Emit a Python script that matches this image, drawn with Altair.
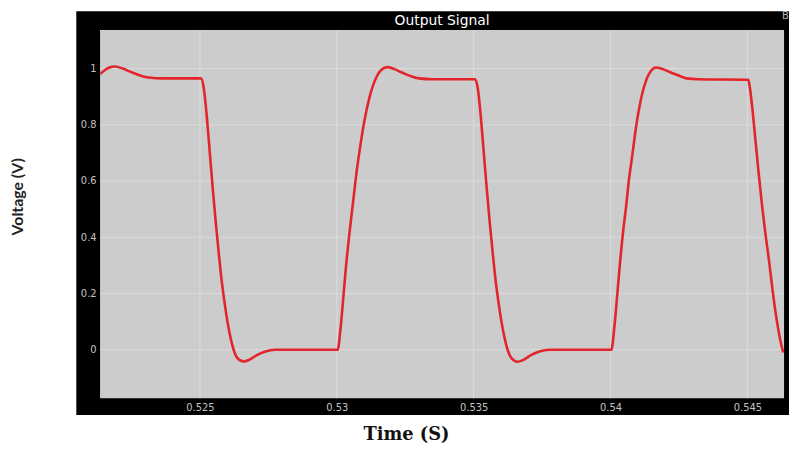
import altair as alt
import pandas as pd

# ---- data ----
time_s = [
    0.52135, 0.52153, 0.52167, 0.52189, 0.52218, 0.52247, 0.52276, 0.52312, 0.52366, 0.52504,
    0.52514, 0.52525, 0.52536, 0.52547, 0.52558, 0.52569, 0.52580, 0.52594, 0.52608, 0.52623,
    0.52637, 0.52659, 0.52681, 0.52710, 0.52739, 0.52775, 0.53003,
    0.53014, 0.53025, 0.53033, 0.53048, 0.53060, 0.53072, 0.53082, 0.53100, 0.53120, 0.53145,
    0.53162, 0.53185, 0.53210, 0.53240, 0.53270, 0.53300, 0.53350, 0.53505,
    0.53515, 0.53526, 0.53537, 0.53548, 0.53559, 0.53570, 0.53581, 0.53595, 0.53609, 0.53624,
    0.53638, 0.53660, 0.53682, 0.53711, 0.53740, 0.53776, 0.54003,
    0.54014, 0.54025, 0.54032, 0.54046, 0.54057, 0.54068, 0.54078, 0.54093, 0.54111, 0.54133,
    0.54148, 0.54166, 0.54191, 0.54220, 0.54249, 0.54278, 0.54320, 0.54503,
    0.54507, 0.54518, 0.54529, 0.54540, 0.54554, 0.54565, 0.54580, 0.54591, 0.54602, 0.54617,
    0.54631,
]
voltage_v = [
    0.980, 0.995, 1.003, 1.007, 1.000, 0.988, 0.977, 0.968, 0.965, 0.965,
    0.930, 0.830, 0.700, 0.570, 0.450, 0.340, 0.240, 0.140, 0.060, 0.000,
    -0.030, -0.042, -0.035, -0.018, -0.006, 0.000, 0.000,
    0.080, 0.200, 0.290, 0.430, 0.530, 0.630, 0.700, 0.810, 0.900, 0.970,
    0.995, 1.005, 0.998, 0.985, 0.973, 0.965, 0.962, 0.962,
    0.930, 0.830, 0.700, 0.570, 0.450, 0.340, 0.240, 0.140, 0.060, 0.000,
    -0.030, -0.043, -0.036, -0.018, -0.006, 0.000, 0.000,
    0.080, 0.200, 0.280, 0.420, 0.510, 0.610, 0.680, 0.790, 0.890, 0.965,
    0.992, 1.004, 0.998, 0.986, 0.975, 0.965, 0.962, 0.960,
    0.945, 0.860, 0.750, 0.640, 0.510, 0.420, 0.310, 0.220, 0.140, 0.050,
    -0.010,
]
x_ticks = [0.525, 0.53, 0.535, 0.54, 0.545]
y_ticks = [0, 0.2, 0.4, 0.6, 0.8, 1]
x_domain = [0.52135, 0.54634]
y_domain = [-0.1725, 1.137]
chart_title = ["Output Signal"]

W, H = 691, 372

sig = pd.DataFrame({"t": time_s, "v": voltage_v})
xt = pd.DataFrame({"t": x_ticks})
yt = pd.DataFrame({"v": y_ticks})
one = pd.DataFrame({"k": [0]})
ttl = pd.DataFrame({"label": chart_title})

xscale = alt.Scale(domain=x_domain, nice=False, zero=False)
yscale = alt.Scale(domain=y_domain, nice=False, zero=False)

frame = alt.Chart(one).mark_rect(color="#000000").encode(
    x=alt.value(-24), x2=alt.value(W + 20), y=alt.value(-19), y2=alt.value(H + 17)
)
panel = alt.Chart(one).mark_rect(color="#cccccc").encode(
    x=alt.value(0), x2=alt.value(W), y=alt.value(0), y2=alt.value(H)
)
vgrid = alt.Chart(xt).mark_rule(color="#dcdcdc", strokeWidth=1).encode(
    x=alt.X("t:Q", scale=xscale)
)
hgrid = alt.Chart(yt).mark_rule(color="#dcdcdc", strokeWidth=1).encode(
    y=alt.Y("v:Q", scale=yscale)
)

line = alt.Chart(sig).mark_line(
    color="#e3242b", strokeWidth=2.6, interpolate="monotone", clip=True
).encode(
    x=alt.X(
        "t:Q",
        scale=xscale,
        axis=alt.Axis(
            values=x_ticks, format="~g", grid=False, ticks=False, domain=False,
            labelColor="#c4c4c4", labelFont="DejaVu Sans", labelFontSize=10,
            labelPadding=4, zindex=3,
            title="Time (S)", titleFont="DejaVu Serif", titleFontWeight="bold",
            titleFontSize=18, titleColor="#111111",
            titleX=309, titleY=37, titleAlign="center", titleBaseline="middle",
        ),
    ),
    y=alt.Y(
        "v:Q",
        scale=yscale,
        axis=alt.Axis(
            values=y_ticks, format="~g", grid=False, ticks=False, domain=False,
            labelColor="#c4c4c4", labelFont="DejaVu Sans", labelFontSize=10,
            labelPadding=4, zindex=3,
            title="Voltage (V)", titleFont="Lato", titleFontWeight="bold",
            titleFontSize=16, titleColor="#222222",
            titleX=-83, titleY=168, titleAngle=270, titleAlign="center",
            titleBaseline="middle",
        ),
    ),
)

title_text = alt.Chart(ttl).mark_text(
    color="#ffffff", fontSize=14, font="DejaVu Sans", align="center", baseline="middle"
).encode(text="label:N", x=alt.value(W / 2), y=alt.value(-9))

corner = alt.Chart(one).mark_text(
    text="B", color="#bbbbbb", fontSize=10, font="DejaVu Sans", align="left", baseline="middle"
).encode(x=alt.value(W - 2), y=alt.value(-14))

chart = alt.layer(frame, panel, vgrid, hgrid, line, title_text, corner).properties(
    width=W,
    height=H,
    autosize=alt.AutoSizeParams(type="none"),
    padding={"left": 93, "top": 20, "right": 5, "bottom": 46},
).configure_view(stroke=None)

chart.save("out.html", embed_options={"renderer": "svg", "actions": False})
